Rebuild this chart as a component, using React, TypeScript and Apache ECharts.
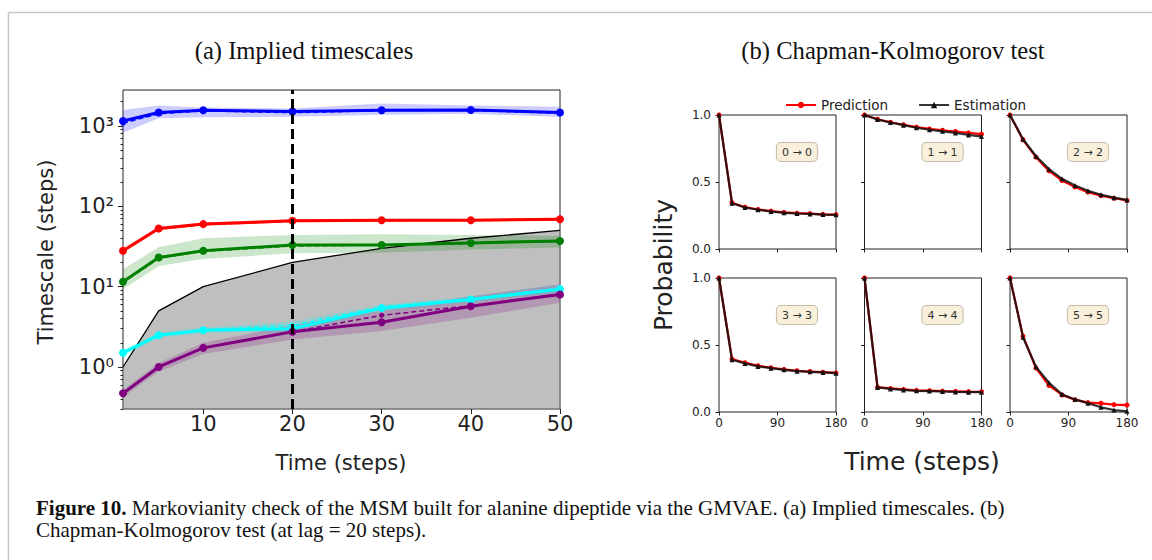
import React, { useEffect, useRef } from 'react';
import * as echarts from 'echarts';

// ---------- (a) Implied timescales ----------
const lagTimes = [1, 5, 10, 20, 30, 40, 50];
const lagDiagonal = [1, 5, 10, 20, 30, 40, 50];

const blueMean = [1150, 1470, 1570, 1510, 1570, 1580, 1470];
const blueAlt = [1080, 1420, 1540, 1460, 1550, 1560, 1440];
const blueLo = [820, 1250, 1280, 1300, 1380, 1420, 1290];
const blueHi = [1580, 1790, 1690, 1650, 1900, 1800, 1730];

const redMean = [28, 53, 60, 66, 67, 67, 69];
const redAlt = [28, 52, 59, 65, 66, 67, 68];
const redLo = [26, 50, 57, 63, 64, 64, 66];
const redHi = [30, 56, 63, 69, 70, 70, 72];

const greenMean = [11.5, 23, 28, 33, 33, 35, 37];
const greenAlt = [11.2, 22.5, 27.5, 32, 33, 34.5, 36.5];
const greenLo = [9.3, 18, 22, 26, 26.5, 29, 30.6];
const greenHi = [16.5, 31, 40, 44, 45, 44, 43];

const cyanMean = [1.5, 2.49, 2.87, 3.0, 5.4, 6.9, 9.3];
const cyanAlt = [1.5, 2.5, 2.9, 3.3, 5.6, 7.1, 9.6];
const cyanLo = [1.35, 2.3, 2.65, 2.7, 4.9, 6.3, 8.4];
const cyanHi = [1.65, 2.7, 3.1, 3.7, 6.0, 7.6, 10.6];

const purpleMean = [0.47, 1.0, 1.73, 2.74, 3.6, 5.7, 8.0];
const purpleAlt = [0.47, 1.0, 1.73, 2.74, 4.4, 5.8, 8.1];
const purpleLo = [0.42, 0.88, 1.45, 2.2, 2.8, 4.1, 6.3];
const purpleHi = [0.52, 1.12, 2.0, 3.3, 5.0, 7.6, 10.7];

const chosenLag = 20;
const itsXTicks = [10, 20, 30, 40, 50];
const itsYMin = 0.3; // bottom of log axis
const itsYMax = 2800; // top of log axis
const itsYMajor = [1, 10, 100, 1000];
const supDigits = ['⁰', '¹', '²', '³'];

// ---------- (b) Chapman-Kolmogorov test ----------
const ckSteps = [0, 20, 40, 60, 80, 100, 120, 140, 160, 180];
const ckLabels = ['0 → 0', '1 → 1', '2 → 2', '3 → 3', '4 → 4', '5 → 5'];
const pred00 = [1.0, 0.345, 0.312, 0.295, 0.283, 0.273, 0.267, 0.264, 0.259, 0.257];
const est00 = [1.0, 0.342, 0.31, 0.293, 0.28, 0.27, 0.265, 0.262, 0.257, 0.255];
const pred11 = [1.0, 0.968, 0.946, 0.927, 0.91, 0.896, 0.886, 0.877, 0.867, 0.857];
const est11 = [1.0, 0.966, 0.944, 0.924, 0.905, 0.89, 0.878, 0.866, 0.851, 0.839];
const pred22 = [1.0, 0.815, 0.685, 0.583, 0.511, 0.462, 0.424, 0.398, 0.379, 0.362];
const est22 = [1.0, 0.819, 0.692, 0.596, 0.524, 0.474, 0.434, 0.405, 0.383, 0.366];
const pred33 = [1.0, 0.395, 0.368, 0.345, 0.33, 0.318, 0.308, 0.302, 0.297, 0.292];
const est33 = [1.0, 0.39, 0.362, 0.34, 0.327, 0.315, 0.305, 0.3, 0.295, 0.29];
const pred44 = [1.0, 0.186, 0.176, 0.169, 0.162, 0.159, 0.156, 0.154, 0.152, 0.151];
const est44 = [1.0, 0.183, 0.172, 0.165, 0.158, 0.156, 0.153, 0.15, 0.148, 0.148];
const pred55 = [1.0, 0.566, 0.328, 0.198, 0.127, 0.092, 0.07, 0.065, 0.055, 0.052];
const est55 = [1.0, 0.558, 0.337, 0.218, 0.132, 0.094, 0.065, 0.035, 0.015, 0.005];
const ckPred = [pred00, pred11, pred22, pred33, pred44, pred55];
const ckEst = [est00, est11, est22, est33, est44, est55];

const SANS = 'DejaVu Sans';
const SERIF = 'Liberation Serif';

function buildOption() {
  const lg = (v: number) => Math.log10(v);
  const pts = (vals: number[]) => lagTimes.map((t, i) => [t, lg(vals[i])]);
  const yMinL = lg(itsYMin);
  const yMaxL = lg(itsYMax);

  const series: any[] = [];
  const grids: any[] = [];
  const xAxes: any[] = [];
  const yAxes: any[] = [];

  // left grid
  grids.push({ left: 123, top: 90, width: 437, height: 319, show: true, borderColor: '#222', borderWidth: 1, backgroundColor: 'transparent' });
  xAxes.push({
    type: 'value', gridIndex: 0, min: 1, max: 50,
    axisLine: { show: false, onZero: false }, splitLine: { show: false },
    axisTick: { customValues: itsXTicks, length: 5, lineStyle: { color: '#222' } },
    axisLabel: { customValues: itsXTicks, fontFamily: SANS, fontSize: 21, color: '#222', margin: 4 },
  });
  const minor: number[] = [];
  for (let e = -1; e <= 3; e++) {
    for (let k = 2; k <= 9; k++) {
      const v = k * Math.pow(10, e);
      if (v > itsYMin && v < itsYMax) minor.push(lg(v));
    }
  }
  yAxes.push({
    type: 'value', gridIndex: 0, position: 'left', min: yMinL, max: yMaxL,
    axisLine: { show: false, onZero: false }, splitLine: { show: false },
    axisTick: { customValues: itsYMajor.map(lg), length: 5, lineStyle: { color: '#222' } },
    axisLabel: {
      customValues: itsYMajor.map(lg), fontFamily: SANS, fontSize: 21, color: '#222', margin: 9,
      formatter: (v: number) => '10' + supDigits[Math.round(v)],
    },
  });
  yAxes.push({
    type: 'value', gridIndex: 0, position: 'left', offset: 0, min: yMinL, max: yMaxL,
    axisLine: { show: false, onZero: false }, splitLine: { show: false },
    axisTick: { customValues: minor, length: 2.5, lineStyle: { color: '#222' } },
    axisLabel: { show: false },
  });

  // gray region under the diagonal (timescale = lag time)
  series.push({
    type: 'custom', xAxisIndex: 0, yAxisIndex: 0, z: 1, silent: true,
    data: [[lagTimes[0], yMinL]],
    renderItem: (_p: any, api: any) => {
      const poly = lagTimes.map((t, i) => api.coord([t, lg(lagDiagonal[i])]));
      poly.push(api.coord([lagTimes[lagTimes.length - 1], yMinL]));
      poly.push(api.coord([lagTimes[0], yMinL]));
      return { type: 'polygon', shape: { points: poly }, style: { fill: 'rgba(128,128,128,0.5)' } };
    },
  });
  series.push({
    type: 'line', xAxisIndex: 0, yAxisIndex: 0, data: pts(lagDiagonal), symbol: 'none', z: 2,
    lineStyle: { color: '#000', width: 1.3 },
  });

  const procs = [
    { c: '#0000ff', band: 'rgba(0,0,255,0.2)', mean: blueMean, alt: blueAlt, lo: blueLo, hi: blueHi },
    { c: '#ff0000', band: 'rgba(255,0,0,0.2)', mean: redMean, alt: redAlt, lo: redLo, hi: redHi },
    { c: '#008000', band: 'rgba(0,128,0,0.2)', mean: greenMean, alt: greenAlt, lo: greenLo, hi: greenHi },
    { c: '#00ffff', band: 'rgba(0,255,255,0.2)', mean: cyanMean, alt: cyanAlt, lo: cyanLo, hi: cyanHi },
    { c: '#800080', band: 'rgba(128,0,128,0.2)', mean: purpleMean, alt: purpleAlt, lo: purpleLo, hi: purpleHi },
  ];
  procs.forEach((p) => {
    series.push({
      type: 'custom', xAxisIndex: 0, yAxisIndex: 0, z: 2, silent: true,
      data: [[lagTimes[0], lg(p.lo[0])]],
      renderItem: (_q: any, api: any) => {
        const up = lagTimes.map((t, i) => api.coord([t, lg(p.hi[i])]));
        const dn = lagTimes.map((t, i) => api.coord([t, lg(p.lo[i])])).reverse();
        return { type: 'polygon', shape: { points: up.concat(dn) }, style: { fill: p.band } };
      },
    });
    series.push({
      type: 'line', xAxisIndex: 0, yAxisIndex: 0, data: pts(p.alt), z: 3,
      symbol: 'circle', symbolSize: 5, itemStyle: { color: p.c },
      lineStyle: { color: p.c, width: 1.5, type: [5, 3] },
    });
    series.push({
      type: 'line', xAxisIndex: 0, yAxisIndex: 0, data: pts(p.mean), z: 4,
      symbol: 'circle', symbolSize: 8, itemStyle: { color: p.c },
      lineStyle: { color: p.c, width: 3 },
    });
  });
  series.push({
    type: 'line', xAxisIndex: 0, yAxisIndex: 0, data: [], z: 6,
    markLine: {
      silent: true, symbol: 'none', label: { show: false },
      lineStyle: { color: '#000', width: 3, type: [10, 5] },
      data: [{ xAxis: chosenLag }],
    },
  });

  // right grids
  const ckLeft = [719, 864.5, 1010];
  const ckTop = [115, 278];
  const graphics: any[] = [];
  for (let r = 0; r < 2; r++) {
    for (let c = 0; c < 3; c++) {
      const idx = r * 3 + c;
      const gi = 1 + idx;
      grids.push({ left: ckLeft[c], top: ckTop[r], width: 117, height: 134, show: true, borderColor: '#222', borderWidth: 1, backgroundColor: 'transparent' });
      xAxes.push({
        type: 'value', gridIndex: gi, min: 0, max: 180, interval: 90,
        axisLine: { show: false, onZero: false }, splitLine: { show: false },
        axisTick: { length: 3.5, lineStyle: { color: '#222' } },
        axisLabel: { show: r === 1, fontFamily: SANS, fontSize: 12, color: '#222', margin: 5 },
      });
      yAxes.push({
        type: 'value', gridIndex: gi, position: 'left', min: 0, max: 1, interval: 0.5,
        axisLine: { show: false, onZero: false }, splitLine: { show: false },
        axisTick: { length: 3.5, lineStyle: { color: '#222' } },
        axisLabel: { show: c === 0, fontFamily: SANS, fontSize: 12, color: '#222', margin: 8, formatter: (v: number) => v.toFixed(1) },
      });
      const yi = yAxes.length - 1;
      series.push({
        name: 'Prediction', type: 'line', xAxisIndex: gi, yAxisIndex: yi, z: 3,
        data: ckSteps.map((s, i) => [s, ckPred[idx][i]]),
        symbol: 'circle', symbolSize: 5, itemStyle: { color: '#ff0000' },
        lineStyle: { color: '#ff0000', width: 2.2 },
      });
      series.push({
        name: 'Estimation', type: 'line', xAxisIndex: gi, yAxisIndex: yi, z: 4,
        data: ckSteps.map((s, i) => [s, ckEst[idx][i]]),
        symbol: 'triangle', symbolSize: 5, itemStyle: { color: '#111' },
        lineStyle: { color: '#111', width: 2.2, opacity: 0.85 },
      });
      graphics.push({
        type: 'text', x: ckLeft[c] + 78, y: ckTop[r] + 37, z: 20,
        style: {
          text: ckLabels[idx], align: 'center', verticalAlign: 'middle',
          fontFamily: SANS, fontSize: 11, fill: '#333',
          backgroundColor: '#f9f0dc', borderColor: '#c4bba8', borderWidth: 1, borderRadius: 4,
          padding: [4, 5, 3, 5],
        },
      });
    }
  }

  // texts
  graphics.push(
    { type: 'line', shape: { x1: 8.5, y1: 12.5, x2: 1152, y2: 12.5 }, style: { stroke: '#c6c6c6', lineWidth: 1.5 } },
    { type: 'line', shape: { x1: 8.5, y1: 12.5, x2: 8.5, y2: 560 }, style: { stroke: '#c6c6c6', lineWidth: 1.5 } },
    { type: 'text', x: 304, y: 50, style: { text: '(a) Implied timescales', align: 'center', verticalAlign: 'middle', fontFamily: SERIF, fontSize: 24.6, fill: '#111' } },
    { type: 'text', x: 893, y: 50, style: { text: '(b) Chapman-Kolmogorov test', align: 'center', verticalAlign: 'middle', fontFamily: SERIF, fontSize: 24.6, fill: '#111' } },
    { type: 'text', x: 46, y: 252, rotation: Math.PI / 2, style: { text: 'Timescale (steps)', align: 'center', verticalAlign: 'middle', fontFamily: SANS, fontSize: 21, fill: '#222' } },
    { type: 'text', x: 341, y: 463, style: { text: 'Time (steps)', align: 'center', verticalAlign: 'middle', fontFamily: SANS, fontSize: 21, fill: '#222' } },
    { type: 'text', x: 663, y: 265, rotation: Math.PI / 2, style: { text: 'Probability', align: 'center', verticalAlign: 'middle', fontFamily: SANS, fontSize: 25, fill: '#222' } },
    { type: 'text', x: 922, y: 461, style: { text: 'Time (steps)', align: 'center', verticalAlign: 'middle', fontFamily: SANS, fontSize: 25, fill: '#222' } },
    {
      type: 'text', x: 36, y: 508,
      style: {
        text: '{b|Figure 10.}{n| Markovianity check of the MSM built for alanine dipeptide via the GMVAE. (a) Implied timescales. (b)}',
        verticalAlign: 'middle', align: 'left',
        rich: {
          b: { fontFamily: SERIF, fontWeight: 'bold', fontSize: 21, fill: '#111' },
          n: { fontFamily: SERIF, fontSize: 21, fill: '#111' },
        },
      },
    },
    { type: 'text', x: 36, y: 530, style: { text: 'Chapman-Kolmogorov test (at lag = 20 steps).', align: 'left', verticalAlign: 'middle', fontFamily: SERIF, fontSize: 21, fill: '#111' } },
  );

  return {
    animation: false,
    backgroundColor: '#fff',
    grid: grids,
    xAxis: xAxes,
    yAxis: yAxes,
    legend: {
      data: ['Prediction', 'Estimation'], left: 780, top: 93, itemWidth: 30, itemHeight: 8, itemGap: 30,
      textStyle: { fontFamily: SANS, fontSize: 13.5, color: '#222' },
    },
    series,
    graphic: graphics,
  };
}

export default function App() {
  const ref = useRef<HTMLDivElement>(null);
  useEffect(() => {
    if (!ref.current) return;
    const chart = echarts.init(ref.current, null, { renderer: 'svg' });
    chart.setOption(buildOption());
    return () => chart.dispose();
  }, []);
  return <div ref={ref} style={{ position: 'fixed', left: 0, top: 0, width: 1152, height: 560 }} />;
}
